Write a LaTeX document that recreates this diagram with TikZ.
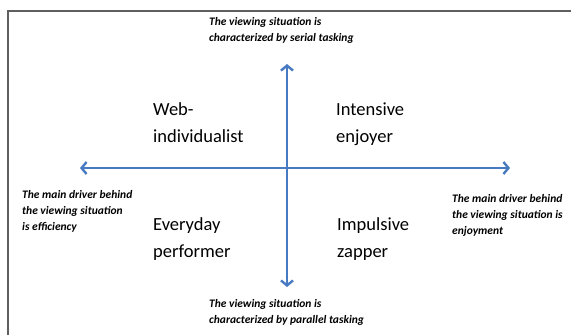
\documentclass[tikz,border=0pt]{standalone}
\usepackage{fontspec}
\setmainfont{Carlito}
\usetikzlibrary{arrows.meta}
\definecolor{axisblue}{RGB}{72,122,194}
\definecolor{framegrey}{RGB}{95,95,95}

\begin{document}
\begin{tikzpicture}[x=1pt,y=-1pt,
  axis/.style={axisblue,line width=2.4pt,{Straight Barb[length=5pt,width=12pt]}-{Straight Barb[length=5pt,width=12pt]}},
  quad/.style={anchor=base west,align=left,inner sep=0pt,font=\fontsize{18.5}{27}\selectfont},
  note/.style={anchor=base west,align=left,inner sep=0pt,font=\fontsize{11.5}{16}\selectfont\bfseries\itshape}]
  \useasboundingbox (0,0) rectangle (571,335);
  \draw[framegrey,line width=1.2pt] (571,11) -- (8,11) -- (8,335);
  % axes
  \coordinate (west) at (80,168);
  \coordinate (east) at (510,168);
  \coordinate (north) at (287,64);
  \coordinate (south) at (287,287);
  \draw[axis] (west) -- (east);
  \draw[axis] (south) -- (north);
  % quadrants (anchored at last baseline)
  \node[quad] (webind) at (153,142) {Web-\\individualist};
  \node[quad] (intens) at (336,142) {Intensive\\enjoyer};
  \node[quad] (everyday) at (153,257) {Everyday\\performer};
  \node[quad] (impulse) at (337,257) {Impulsive\\zapper};
  % axis notes
  \node[note] (serial) at (209,41) {The viewing situation is\\characterized by serial tasking};
  \node[note] (parallel) at (209,323) {The viewing situation is\\characterized by parallel tasking};
  \node[note] (effic) at (22,230) {The main driver behind\\the viewing situation\\is efficiency};
  \node[note] (enjoy) at (452,234) {The main driver behind\\the viewing situation is\\enjoyment};
\end{tikzpicture}
\end{document}
